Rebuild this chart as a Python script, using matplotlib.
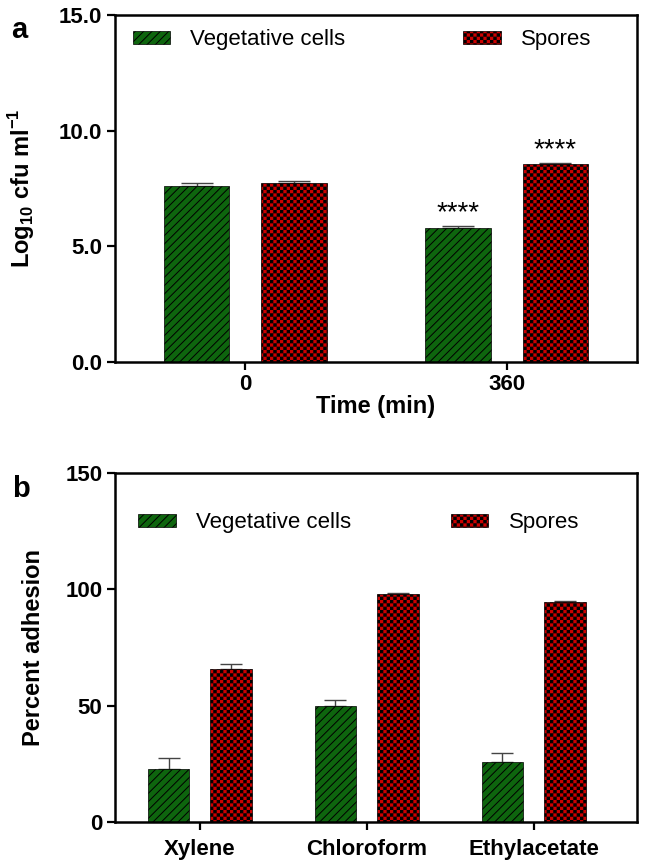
"""Log10 cfu and percent adhesion of vegetative cells vs spores (two-panel bar chart)."""
import warnings
import matplotlib
matplotlib.use("Agg")
import matplotlib.pyplot as plt
import matplotlib.hatch as mhatch
from matplotlib.path import Path
import numpy as np

warnings.filterwarnings("ignore")

# panel a
times = ["0", "360"]
veg_log = [7.62, 5.78]
veg_log_err = [0.13, 0.09]
spore_log = [7.73, 8.55]
spore_log_err = [0.09, 0.06]
signif = ["", "****"]

# panel b
solvents = ["Xylene", "Chloroform", "Ethylacetate"]
veg_adh = [22.8, 50.0, 25.8]
veg_adh_err = [4.7, 2.3, 4.0]
spore_adh = [65.6, 98.1, 94.4]
spore_adh_err = [2.3, 0.4, 0.4]

GREEN = "#0e650e"
RED = "#cc0000"


class CheckerHatch(mhatch.HatchPatternBase):
    """Checkerboard of filled squares, selected with the 'c' hatch character."""

    def __init__(self, hatch, density):
        self.n = hatch.count("c") * density
        self.num_vertices = 5 * (self.n * self.n // 2) if self.n else 0

    def set_vertices_and_codes(self, vertices, codes):
        n = self.n
        cell = 1.0 / n
        half = 0.36 * cell
        ii, jj = np.meshgrid(np.arange(n), np.arange(n))
        mask = (ii + jj) % 2 == 0
        centres = np.stack([(ii[mask] + 0.5) * cell, (jj[mask] + 0.5) * cell], axis=1)
        sq = np.array([[-1, -1], [1, -1], [1, 1], [-1, 1], [-1, -1]]) * half
        vertices[:] = (sq[None, :, :] + centres[:, None, :]).reshape(-1, 2)
        one = [Path.MOVETO, Path.LINETO, Path.LINETO, Path.LINETO, Path.CLOSEPOLY]
        codes[:] = np.tile(one, len(centres))


mhatch._hatch_types.append(CheckerHatch)

plt.rcParams["font.family"] = ["Liberation Sans", "DejaVu Sans"]
plt.rcParams["hatch.linewidth"] = 0.7
plt.rcParams["mathtext.fontset"] = "custom"
plt.rcParams["mathtext.rm"] = "Liberation Sans:bold"
plt.rcParams["mathtext.bf"] = "Liberation Sans:bold"

VEG_HATCH = "////"
SPORE_HATCH = "ccccc"


def _style(ax):
    for s in ax.spines.values():
        s.set_linewidth(1.8)
    ax.tick_params(direction="out", length=6, width=1.6, labelsize=16, pad=3)
    for lab in ax.get_xticklabels() + ax.get_yticklabels():
        lab.set_fontweight("bold")


def _bars(ax, x, vals, errs, off, width, color, hatch, capsize, label):
    bars = ax.bar(x + off, vals, width, color=color, edgecolor="black",
                  linewidth=0.5, hatch=hatch, label=label, zorder=2)
    ax.errorbar(x + off, vals, yerr=[np.zeros(len(vals)), errs], fmt="none",
                ecolor="#444444", elinewidth=1, capsize=capsize, capthick=1, zorder=1)
    return bars


fig = plt.figure(figsize=(6.45, 8.67), dpi=100)
ax_a = fig.add_axes([0.178, 0.5825, 0.81, 0.4002])
ax_b = fig.add_axes([0.178, 0.0519, 0.81, 0.4025])

# --- panel a
xa = np.arange(len(times))
_bars(ax_a, xa, veg_log, veg_log_err, -0.187, 0.252, GREEN, VEG_HATCH, 11.5, "Vegetative cells")
_bars(ax_a, xa, spore_log, spore_log_err, 0.187, 0.252, RED, SPORE_HATCH, 11.5, "Spores")
for i, s in enumerate(signif):
    if s:
        ax_a.annotate(s, (xa[i] - 0.187, veg_log[i] + veg_log_err[i]), xytext=(0, 0),
                      textcoords="offset points", ha="center", va="bottom", fontsize=20)
        ax_a.annotate(s, (xa[i] + 0.187, spore_log[i] + spore_log_err[i]), xytext=(0, 0),
                      textcoords="offset points", ha="center", va="bottom", fontsize=20)
ax_a.set_xlim(-0.5, 1.5)
ax_a.set_ylim(0, 15)
ax_a.set_yticks([0, 5, 10, 15])
ax_a.set_yticklabels([f"{v:.1f}" for v in [0, 5, 10, 15]])
ax_a.set_xticks(xa)
ax_a.set_xticklabels(times)
ax_a.set_xlabel("Time (min)", fontsize=17, fontweight="bold", labelpad=0)
ax_a.set_ylabel(r"Log$_{10}$ cfu ml$^{-1}$", fontsize=17, fontweight="bold")
ax_a.yaxis.set_label_coords(-0.148, 0.5)
_style(ax_a)
ax_a.legend(loc="center left", bbox_to_anchor=(0.034, 0.928), ncol=2, frameon=False,
            fontsize=16, handlelength=1.7, handleheight=0.55, handletextpad=0.9,
            columnspacing=5.3, borderpad=0, borderaxespad=0)
fig.text(0.018, 0.982, "a", fontsize=21, fontweight="bold", va="top")

# --- panel b
xb = np.arange(len(solvents))
_bars(ax_b, xb, veg_adh, veg_adh_err, -0.188, 0.25, GREEN, VEG_HATCH, 7.6, "Vegetative cells")
_bars(ax_b, xb, spore_adh, spore_adh_err, 0.188, 0.25, RED, SPORE_HATCH, 7.6, "Spores")
ax_b.set_xlim(-0.51, 2.62)
ax_b.set_ylim(0, 150)
ax_b.set_yticks([0, 50, 100, 150])
ax_b.set_xticks(xb)
ax_b.set_xticklabels(solvents)
ax_b.set_ylabel("Percent adhesion", fontsize=17, fontweight="bold")
ax_b.yaxis.set_label_coords(-0.134, 0.5)
_style(ax_b)
ax_b.tick_params(axis="x", pad=6)
ax_b.legend(loc="center left", bbox_to_anchor=(0.044, 0.857), ncol=2, frameon=False,
            fontsize=16, handlelength=1.7, handleheight=0.55, handletextpad=0.9,
            columnspacing=4.5, borderpad=0, borderaxespad=0)
fig.text(0.018, 0.452, "b", fontsize=21, fontweight="bold", va="top")

fig.savefig("out.png", dpi=100)
plt.close(fig)
